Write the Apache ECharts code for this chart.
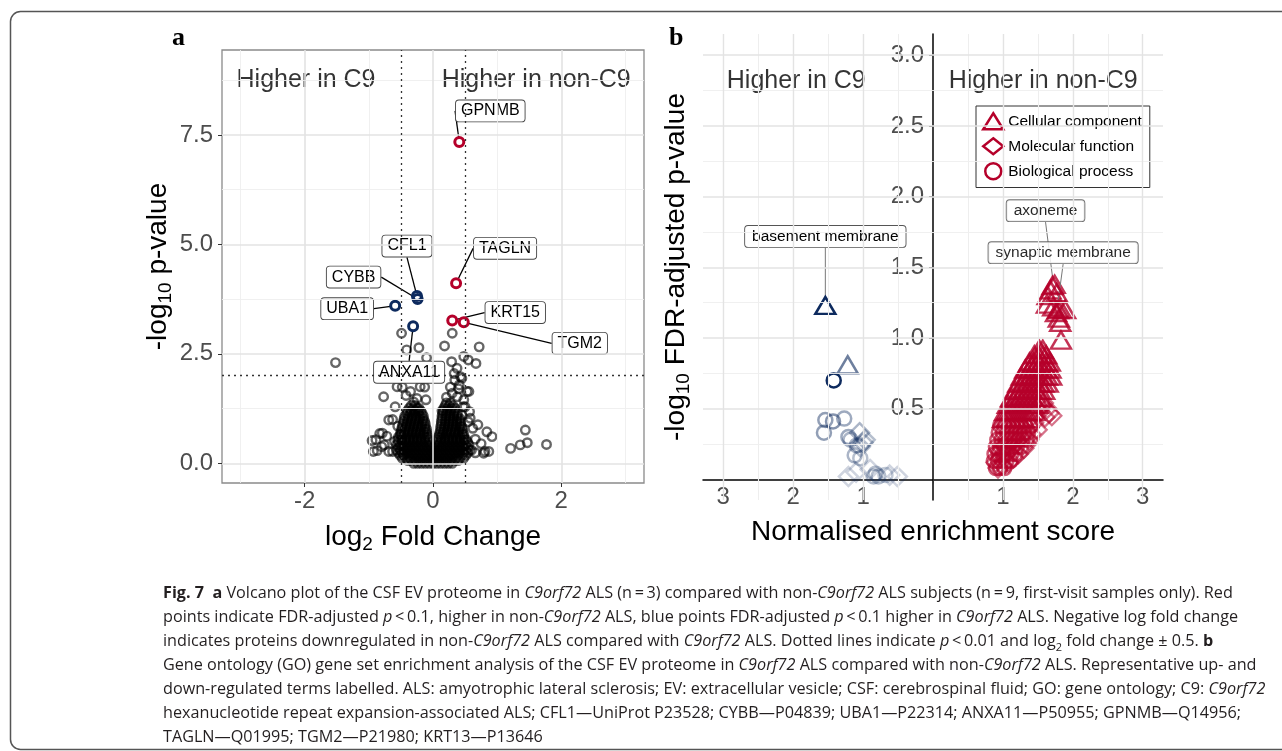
<!DOCTYPE html>
<html><head><meta charset="utf-8">
<script src="https://cdn.jsdelivr.net/npm/echarts@6/dist/echarts.min.js"></script>
<style>html,body{margin:0;padding:0;background:#fff}#c{width:1282px;height:751px}</style>
</head><body><div id="c"></div>
<script>
// ---------------- DATA ----------------
// Panel a: volcano plot
const sigGenes    = ['GPNMB','TAGLN','KRT15','TGM2','CFL1','CYBB','UBA1','ANXA11'];
const sigLogFC    = [0.41, 0.36, 0.30, 0.48, -0.25, -0.24, -0.59, -0.31];
const sigNegLogP  = [7.34, 4.11, 3.26, 3.22, 3.82, 3.75, 3.60, 3.13];
const sigDirection= ['up','up','up','up','down','down','down','down'];

const nsOutliers = [
 [-1.52,2.30],[-0.49,2.97],[-0.41,2.59],[-0.22,2.64],[-0.10,2.41],[0.30,2.97],[0.18,2.68],[0.72,2.66],
 [0.29,2.32],[0.375,2.17],[0.48,2.44],[0.55,2.36],[0.67,2.28],[0.45,1.94],[0.34,1.90],[-0.51,1.98],
 [-0.56,1.75],[-0.77,1.52],[-0.20,1.75],[-0.11,1.45],[-0.59,1.29],[-0.69,0.99],[0.56,1.64],[0.48,1.45],
 [0.50,1.29],[0.58,1.03],[0.70,0.88],[0.84,0.72],[0.92,0.61],[1.44,0.76],[1.21,0.34],[1.36,0.42],
 [1.47,0.47],[1.77,0.43],[0.87,0.27],[0.79,0.23],[0.66,0.24],[-0.95,0.52],[-0.83,0.68],[-0.93,0.27],
 [-0.80,0.38],[-0.69,0.27],[-0.46,0.19],[-0.48,1.74],[-0.13,1.74],[0.27,1.74],[0.41,1.79],[0.53,1.64],
 [-0.35,1.64],[-0.25,1.48],[0.14,1.20],[0.21,1.51],[0.38,1.52],[0.47,1.29],[0.57,1.18],[-0.63,1.00],
 [-0.79,0.69],[-0.89,0.54],[-0.76,0.42],[-0.87,0.29],[-0.63,0.27],[0.43,1.98],[0.81,0.27],
 [0.33,2.05],[0.40,1.70],[0.30,1.60],[-0.42,1.55],[-0.30,1.40],[0.45,1.10],[0.62,0.80],[0.55,0.95],
 [-0.55,0.85],[-0.50,0.65],[0.66,0.55],[0.75,0.45],[0.60,0.30],[-0.60,0.50],[-0.72,0.62]
];
// dense core of the volcano, read row by row: [-log10 p, [log2 FC values]]
const nsCoreRows = [
 [0.00,[-0.30,-0.24,-0.18,-0.12,-0.06,0.00,0.06,0.12,0.18,0.24,0.30]],
 [0.06,[-0.39,-0.33,-0.27,-0.21,-0.15,-0.09,-0.03,0.03,0.09,0.15,0.21,0.27,0.33,0.39]],
 [0.12,[-0.48,-0.42,-0.36,-0.30,-0.24,-0.18,-0.12,-0.06,0.00,0.06,0.12,0.18,0.24,0.30,0.36,0.42,0.48]],
 [0.18,[-0.51,-0.45,-0.39,-0.33,-0.27,-0.21,-0.15,-0.09,-0.03,0.03,0.09,0.15,0.21,0.27,0.33,0.39,0.45,0.51]],
 [0.24,[-0.54,-0.48,-0.42,-0.36,-0.30,-0.24,-0.18,-0.12,-0.06,0.00,0.06,0.12,0.18,0.24,0.30,0.36,0.42,0.48,0.54]],
 [0.30,[-0.57,-0.51,-0.45,-0.39,-0.33,-0.27,-0.21,-0.15,-0.09,-0.03,0.03,0.09,0.15,0.21,0.27,0.33,0.39,0.45,0.51,0.57]],
 [0.36,[-0.54,-0.48,-0.42,-0.36,-0.30,-0.24,-0.18,-0.12,-0.06,0.00,0.06,0.12,0.18,0.24,0.30,0.36,0.42,0.48,0.54]],
 [0.42,[-0.57,-0.51,-0.45,-0.39,-0.33,-0.27,-0.21,-0.15,-0.09,-0.03,0.03,0.09,0.15,0.21,0.27,0.33,0.39,0.45,0.51,0.56]],
 [0.48,[-0.54,-0.48,-0.42,-0.36,-0.30,-0.24,-0.18,-0.12,-0.06,0.06,0.12,0.18,0.24,0.30,0.36,0.42,0.48,0.54]],
 [0.54,[-0.55,-0.49,-0.43,-0.37,-0.31,-0.25,-0.19,-0.13,-0.07,0.07,0.13,0.19,0.25,0.31,0.37,0.43,0.49,0.52]],
 [0.60,[-0.54,-0.48,-0.42,-0.36,-0.30,-0.24,-0.18,-0.12,-0.08,0.08,0.12,0.18,0.24,0.30,0.36,0.42,0.48]],
 [0.66,[-0.51,-0.45,-0.39,-0.33,-0.27,-0.21,-0.15,-0.09,0.10,0.15,0.21,0.27,0.33,0.39,0.45,0.48]],
 [0.72,[-0.50,-0.44,-0.38,-0.32,-0.26,-0.20,-0.14,-0.10,0.11,0.16,0.22,0.28,0.34,0.40,0.46]],
 [0.78,[-0.49,-0.43,-0.37,-0.31,-0.25,-0.19,-0.13,-0.10,0.12,0.17,0.23,0.29,0.35,0.41,0.46]],
 [0.84,[-0.48,-0.42,-0.36,-0.30,-0.24,-0.18,-0.12,0.12,0.18,0.24,0.30,0.36,0.42,0.45]],
 [0.90,[-0.47,-0.41,-0.35,-0.29,-0.23,-0.17,-0.12,0.13,0.19,0.25,0.31,0.37,0.43]],
 [0.96,[-0.46,-0.40,-0.34,-0.28,-0.22,-0.16,-0.13,0.13,0.19,0.25,0.31,0.37,0.43]],
 [1.02,[-0.45,-0.39,-0.33,-0.27,-0.21,-0.15,0.14,0.20,0.26,0.32,0.38,0.42]],
 [1.08,[-0.44,-0.38,-0.32,-0.26,-0.20,-0.15,0.14,0.20,0.26,0.32,0.38]],
 [1.14,[-0.41,-0.35,-0.29,-0.23,-0.17,0.15,0.21,0.27,0.33,0.38]],
 [1.20,[-0.40,-0.34,-0.28,-0.22,-0.19,0.16,0.22,0.28,0.34]],
 [1.26,[-0.37,-0.31,-0.25,-0.22,0.17,0.23,0.29,0.34]],
 [1.32,[-0.34,-0.28,0.19,0.25,0.31]],
 [1.38,[0.21,0.27]]
];
const aThresholdFC = [-0.5, 0.5];
const aThresholdP  = [2];
const aXTicks = [-2, 0, 2];
const aYTicks = [0, 2.5, 5, 7.5];
const aXMinor = [-3, -1, 1, 3];
const aYMinor = [1.25, 3.75, 6.25, 8.75];
const aNotes  = ['Higher in C9', 'Higher in non-C9'];
const aNotesX = [-1.98, 1.61];
const aNotesY = [8.75, 8.75];

// Panel b: GO enrichment, [NES, -log10 FDR]
const ccUpTop = [
 [1.74,1.38],[1.68,1.34],[1.64,1.30],[1.77,1.32],[1.63,1.24],[1.72,1.22],[1.82,1.21],[1.89,1.20],[1.76,1.18],
 [1.80,1.14],[1.82,1.11],[1.83,0.985]
];
// dense cellular-component band, read row by row: [-log10 FDR, [NES values]]
const ccUpRows = [
 [0.43,[1.00,1.06,1.12,1.18,1.24,1.30,1.36]],
 [0.48,[1.03,1.09,1.15,1.21,1.27,1.33,1.39,1.45]],
 [0.53,[1.07,1.13,1.19,1.25,1.31,1.37,1.43,1.49]],
 [0.58,[1.12,1.18,1.24,1.30,1.36,1.42,1.48,1.54]],
 [0.63,[1.17,1.23,1.29,1.35,1.41,1.47,1.53,1.59]],
 [0.68,[1.22,1.28,1.34,1.40,1.46,1.52,1.58,1.64]],
 [0.73,[1.27,1.33,1.39,1.45,1.51,1.57,1.63,1.69]],
 [0.78,[1.32,1.38,1.44,1.50,1.56,1.62,1.68]],
 [0.83,[1.38,1.44,1.50,1.56,1.62,1.67]],
 [0.88,[1.45,1.51,1.57,1.62]],
 [0.92,[1.52,1.57]]
];
const mfUp = [
 [1.58,0.54],[1.63,0.50],[1.70,0.45],[1.53,0.48],[1.60,0.44],[1.49,0.35],[1.34,0.25],[1.44,0.40],[1.66,0.47],
 [1.55,0.52],[1.40,0.32],[1.30,0.22],[1.22,0.18],[1.15,0.15],[1.08,0.12],[1.00,0.10],[0.93,0.08],[0.90,0.12],
 [0.97,0.15],[1.04,0.18],[1.12,0.22],[1.19,0.26],[1.26,0.30],[1.33,0.34],[1.37,0.28],[0.95,0.20],[1.02,0.24],[1.10,0.28]
];
const bpUpRows = [
 [0.08,[0.90,0.96,1.02]],
 [0.13,[0.87,0.93,0.99,1.05,1.11]],
 [0.18,[0.88,0.94,1.00,1.06,1.12,1.18]],
 [0.23,[0.90,0.96,1.02,1.08,1.14,1.20,1.26]],
 [0.28,[0.92,0.98,1.04,1.10,1.16,1.22,1.28,1.34]],
 [0.33,[0.94,1.00,1.06,1.12,1.18,1.24,1.30,1.36]],
 [0.38,[0.96,1.02,1.08,1.14,1.20,1.26,1.32,1.40]]
];
// down-regulated sets: [NES, -log10 FDR, alpha level]
const ccDown = [[-1.22,0.81,0.6]];
const bpDown = [
 [-1.42,0.70,1.0],[-1.54,0.42,0.45],[-1.43,0.41,0.5],[-1.27,0.43,0.4],[-1.56,0.33,0.45],[-1.21,0.30,0.4],
 [-1.18,0.28,0.35],[-1.09,0.24,0.35],[-1.12,0.17,0.35],[-1.04,0.15,0.3],[-0.85,0.02,0.3],[-0.78,0.02,0.3],
 [-0.68,0.03,0.25],[-0.82,0.04,0.3]
];
const mfDown = [
 [-1.05,0.33,0.35],[-0.97,0.28,0.3],[-1.04,0.23,0.3],[-1.00,0.26,0.3],[-1.21,0.02,0.2],[-0.51,0.02,0.2],
 [-0.62,0.03,0.2],[-0.90,0.07,0.2],[-1.10,0.05,0.2]
];
const bTerms   = ['basement membrane', 'axoneme', 'synaptic membrane'];
const bTermNES = [-1.54, 1.71, 1.79];
const bTermFDR = [1.23, 1.37, 1.20];
const bXTicks = [-3,-2,-1,0,1,2,3];
const bYTicks = [0.5,1,1.5,2,2.5,3];
const bXMinor = [-2.5,-1.5,-0.5,0.5,1.5,2.5];
const bYMinor = [0.25,0.75,1.25,1.75,2.25,2.75];
const bNotes  = ['Higher in C9', 'Higher in non-C9'];
const bNotesX = [-1.956, 1.576];
const bNotesY = [2.82, 2.82];
const legendNames = ['Cellular component', 'Molecular function', 'Biological process'];

// ---------------- STYLE ----------------
const FONT = '"Liberation Sans", Arial, sans-serif';
const RED = '#b5002a', BLUE = '#0d2a5e';
const MAJOR = '#e3e3e3', MINOR = '#eeeeee';
const GRID_A = {left:222, top:50, width:422, height:433};
const GRID_B = {left:703, top:34, width:460, height:466};
const labelOffA = {GPNMB:[31,-31], TAGLN:[49,-35], KRT15:[63,-8], TGM2:[116,21], CFL1:[-10,-50], CYBB:[-64,-22], UBA1:[-48,3], ANXA11:[-4,46]};
const labelOffB = {'basement membrane':[0,-69], 'axoneme':[-7,-75], 'synaptic membrane':[5,-57]};

function gl(values, axis, color, width, type) {
  return values.map(v => ({[axis]: v, lineStyle: {color: color, width: width, type: type || 'solid'}}));
}
function helper(xi, z, lines) {
  return {type:'scatter', xAxisIndex:xi, yAxisIndex:xi, data:[], z:z, silent:true,
    markLine:{silent:true, symbol:['none','none'], label:{show:false}, animation:false,
      emphasis:{disabled:true}, data: lines}};
}
function hollow(color, bw, op) {
  return {color:'rgba(0,0,0,0)', borderColor:color, borderWidth:bw, opacity: op};
}
function fromRows(rows) { const out = []; rows.forEach(r => r[1].forEach(x => out.push([x, r[0]]))); return out; }

const nsPoints = nsOutliers.concat(fromRows(nsCoreRows));
const ccUp = ccUpTop.concat(fromRows(ccUpRows));
const bpUp = fromRows(bpUpRows);

const sigItems = sigGenes.map((g,i) => ({name:g, value:[sigLogFC[i], sigNegLogP[i]],
  itemStyle: hollow(sigDirection[i]==='up'?RED:BLUE, 3, 1)}));
const termItems = bTerms.map((t,i) => ({name:t, value:[bTermNES[i], bTermFDR[i]],
  itemStyle: hollow(bTermNES[i] < 0 ? BLUE : RED, 2.5, bTermNES[i] < 0 ? 1 : 0.85)}));
const downItems = arr => arr.map(d => ({value:[d[0], d[1]], itemStyle: hollow(BLUE, 2.5, d[2])}));

const axisLabelStyle = {fontFamily: FONT, fontSize: 24, color: '#4d4d4d'};
const nameStyle = {fontFamily: FONT, fontSize: 28, color: '#000', lineHeight: 34,
  rich: {sub: {fontFamily: FONT, fontSize: 19, color:'#000', verticalAlign:'bottom', lineHeight: 12}}};

const captionText = [
 '{b|Fig. 7}  {b|a} Volcano plot of the CSF EV proteome in {i|C9orf72} ALS (n\u2009=\u20093) compared with non-{i|C9orf72} ALS subjects (n\u2009=\u20099, first-visit samples only). Red',
 'points indicate FDR-adjusted {i|p}\u2009<\u20090.1, higher in non-{i|C9orf72} ALS, blue points FDR-adjusted {i|p}\u2009<\u20090.1 higher in {i|C9orf72} ALS. Negative log fold change',
 'indicates proteins downregulated in non-{i|C9orf72} ALS compared with {i|C9orf72} ALS. Dotted lines indicate {i|p}\u2009<\u20090.01 and log{s|2} fold change \u00b1 0.5. {b|b}',
 'Gene ontology (GO) gene set enrichment analysis of the CSF EV proteome in {i|C9orf72} ALS compared with non-{i|C9orf72} ALS. Representative up- and',
 'down-regulated terms labelled. ALS: amyotrophic lateral sclerosis; EV: extracellular vesicle; CSF: cerebrospinal fluid; GO: gene ontology; C9: {i|C9orf72}',
 'hexanucleotide repeat expansion-associated ALS; CFL1\u2014UniProt P23528; CYBB\u2014P04839; UBA1\u2014P22314; ANXA11\u2014P50955; GPNMB\u2014Q14956;',
 'TAGLN\u2014Q01995; TGM2\u2014P21980; KRT13\u2014P13646'
].join('\n');
const CAPFONT = '"Open Sans", Lato, sans-serif';
const capBase = {fontFamily: CAPFONT, fontSize: 16.2, color:'#231f20', lineHeight: 24};

const chart = echarts.init(document.getElementById('c'), null, {renderer:'canvas'});
chart.setOption({
  animation: false,
  backgroundColor: '#fff',
  title: [
    {text:'a', left:172, top:25, padding:0, textStyle:{fontFamily:'"Liberation Serif", serif', fontWeight:'bold', fontSize:26, color:'#000'}},
    {text:'b', left:669, top:25, padding:0, textStyle:{fontFamily:'"Liberation Serif", serif', fontWeight:'bold', fontSize:26, color:'#000'}},
    {text: captionText, left:163, top:581, padding:0,
     textStyle: Object.assign({}, capBase, {fontWeight:'normal', rich:{
       b: Object.assign({}, capBase, {fontWeight:'bold'}),
       i: Object.assign({}, capBase, {fontStyle:'italic'}),
       s: Object.assign({}, capBase, {fontSize:11, lineHeight:14, verticalAlign:'bottom'})
     }})}
  ],
  graphic: [{type:'rect', silent:true, z:-1,
    shape:{x:10.5, y:11.5, width:1300, height:738, r:10},
    style:{fill:'none', stroke:'#555', lineWidth:1.5}}],
  legend: {
    data: legendNames, orient:'vertical', left:976, top:106, padding:[6,8,7,6], itemGap:6.5,
    itemWidth:20, itemHeight:16, borderColor:'#333', borderWidth:1, backgroundColor:'#fff',
    selectedMode:false,
    itemStyle:{color:'rgba(0,0,0,0)', borderColor:RED, borderWidth:2.5, opacity:1},
    textStyle:{fontFamily:FONT, fontSize:15.5, color:'#000'}
  },
  grid: [
    Object.assign({show:true, borderColor:'#8a8a8a', borderWidth:1.3, backgroundColor:'#fff'}, GRID_A),
    Object.assign({show:false}, GRID_B)
  ],
  xAxis: [
    {type:'value', gridIndex:0, min:-3.29, max:3.29, splitNumber:3, z:1,
     name:'log{sub|2} Fold Change', nameLocation:'middle', nameGap:37, nameTextStyle:nameStyle,
     axisLine:{show:false, onZero:false}, splitLine:{show:false},
     axisTick:{show:true, length:4, lineStyle:{color:'#333'}, customValues:aXTicks},
     axisLabel:Object.assign({margin:6, customValues:aXTicks, formatter: v => String(v)}, axisLabelStyle)},
    {type:'value', gridIndex:1, min:-3.29, max:3.29, splitNumber:6, z:1, offset:0,
     name:'Normalised enrichment score', nameLocation:'middle', nameGap:36, nameTextStyle:nameStyle,
     axisLine:{show:true, onZero:false, lineStyle:{color:'#000', width:1.5}}, splitLine:{show:false},
     axisTick:{show:true, length:4, lineStyle:{color:'#333'}, customValues:bXTicks},
     axisLabel:Object.assign({margin:6, customValues:bXTicks,
       formatter: v => v === 0 ? '' : String(Math.abs(v))}, axisLabelStyle)}
  ],
  yAxis: [
    {type:'value', gridIndex:0, min:-0.45, max:9.44, z:1,
     name:'-log{sub|10} p-value', nameLocation:'middle', nameGap:45, nameTextStyle:nameStyle,
     axisLine:{show:false, onZero:false}, splitLine:{show:false},
     axisTick:{show:true, length:4, lineStyle:{color:'#333'}, customValues:aYTicks},
     axisLabel:Object.assign({margin:9, customValues:aYTicks, formatter: v => v.toFixed(1)}, axisLabelStyle)},
    {type:'value', gridIndex:1, min:-0.146, max:3.15, z:1, offset:0,
     name:'-log{sub|10} FDR-adjusted p-value', nameLocation:'middle', nameGap:240, nameTextStyle:nameStyle,
     axisLine:{show:true, onZero:false, lineStyle:{color:'#000', width:1.5}}, splitLine:{show:false},
     axisTick:{show:true, length:4, lineStyle:{color:'#333'}, customValues:bYTicks},
     axisLabel:Object.assign({margin:9, customValues:bYTicks, formatter: v => v.toFixed(1)}, axisLabelStyle)}
  ],
  series: [
    helper(0, 0, [].concat(gl(aXMinor,'xAxis',MINOR,0.9), gl(aYMinor,'yAxis',MINOR,0.9),
                           gl(aXTicks,'xAxis',MAJOR,1.6), gl(aYTicks,'yAxis',MAJOR,1.6))),
    helper(0, 1, [].concat(gl(aThresholdFC,'xAxis','#333',1.3,[2,4]), gl(aThresholdP,'yAxis','#333',1.3,[2,4]))),
    {name:'not significant', type:'scatter', xAxisIndex:0, yAxisIndex:0, z:2, silent:true,
     symbol:'circle', symbolSize:8.5, itemStyle: hollow('#000', 2.4, 0.6), data: nsPoints},
    {name:'significant', type:'scatter', xAxisIndex:0, yAxisIndex:0, z:3, silent:true,
     symbol:'circle', symbolSize:9, data: sigItems,
     label:{show:true, position:'inside', formatter: p => p.name, fontFamily:FONT, fontSize:16, color:'#000',
       backgroundColor:'#fff', borderColor:'#444', borderWidth:0.9, borderRadius:3, padding:[3,5,2,5]},
     labelLine:{show:true, lineStyle:{color:'#000', width:1.3}},
     labelLayout: p => { const o = labelOffA[sigGenes[p.dataIndex]]; return {dx:o[0], dy:o[1]}; }},
    {name:'notesA', type:'scatter', xAxisIndex:0, yAxisIndex:0, z:3, silent:true, symbolSize:0,
     data: aNotes.map((t,i)=>({name:t, value:[aNotesX[i], aNotesY[i]]})),
     label:{show:true, position:'inside', formatter: p => p.name, fontFamily:FONT, fontSize:25, color:'#000'}},

    helper(1, 0, [].concat(gl(bXMinor,'xAxis',MINOR,1.1), gl(bYMinor,'yAxis',MINOR,0.9),
                           gl(bXTicks.filter(v=>v!==0),'xAxis',MAJOR,1.4), gl(bYTicks,'yAxis',MAJOR,1.6))),
    {name:'Cellular component', type:'scatter', xAxisIndex:1, yAxisIndex:1, z:2, silent:true,
     symbol:'triangle', symbolSize:[20,17], itemStyle: hollow(RED, 2.5, 0.8), data: ccUp},
    {name:'Molecular function', type:'scatter', xAxisIndex:1, yAxisIndex:1, z:2, silent:true,
     symbol:'diamond', symbolSize:[19,19], itemStyle: hollow(RED, 2.3, 0.55), data: mfUp},
    {name:'Biological process', type:'scatter', xAxisIndex:1, yAxisIndex:1, z:2, silent:true,
     symbol:'circle', symbolSize:14, itemStyle: hollow(RED, 2.5, 0.65), data: bpUp},
    {name:'CC down', type:'scatter', xAxisIndex:1, yAxisIndex:1, z:2, silent:true,
     symbol:'triangle', symbolSize:[20,17], data: downItems(ccDown)},
    {name:'MF down', type:'scatter', xAxisIndex:1, yAxisIndex:1, z:2, silent:true,
     symbol:'diamond', symbolSize:[19,19], data: downItems(mfDown)},
    {name:'BP down', type:'scatter', xAxisIndex:1, yAxisIndex:1, z:2, silent:true,
     symbol:'circle', symbolSize:14, data: downItems(bpDown)},
    {name:'labelled terms', type:'scatter', xAxisIndex:1, yAxisIndex:1, z:3, silent:true,
     symbol:'triangle', symbolSize:[20,17], data: termItems,
     label:{show:true, position:'inside', formatter: p => p.name, fontFamily:FONT, fontSize:15.5, color:'#000',
       backgroundColor:'#fff', borderColor:'#555', borderWidth:0.9, borderRadius:3, padding:[3,7,2,7]},
     labelLine:{show:true, lineStyle:{color:'#777', width:1}},
     labelLayout: p => { const o = labelOffB[bTerms[p.dataIndex]]; return {dx:o[0], dy:o[1]}; }},
    {name:'notesB', type:'scatter', xAxisIndex:1, yAxisIndex:1, z:3, silent:true, symbolSize:0,
     data: bNotes.map((t,i)=>({name:t, value:[bNotesX[i], bNotesY[i]]})),
     label:{show:true, position:'inside', formatter: p => p.name, fontFamily:FONT, fontSize:25, color:'#000'}}
  ]
});
// place panel b axes on the zero lines (through the library's own scales)
const zeroX = chart.convertToPixel({xAxisIndex:1}, 0);
const zeroY = chart.convertToPixel({yAxisIndex:1}, 0);
chart.setOption({
  xAxis: [{}, {offset: zeroY - (GRID_B.top + GRID_B.height)}],
  yAxis: [{}, {offset: GRID_B.left - zeroX}]
});
</script></body></html>
